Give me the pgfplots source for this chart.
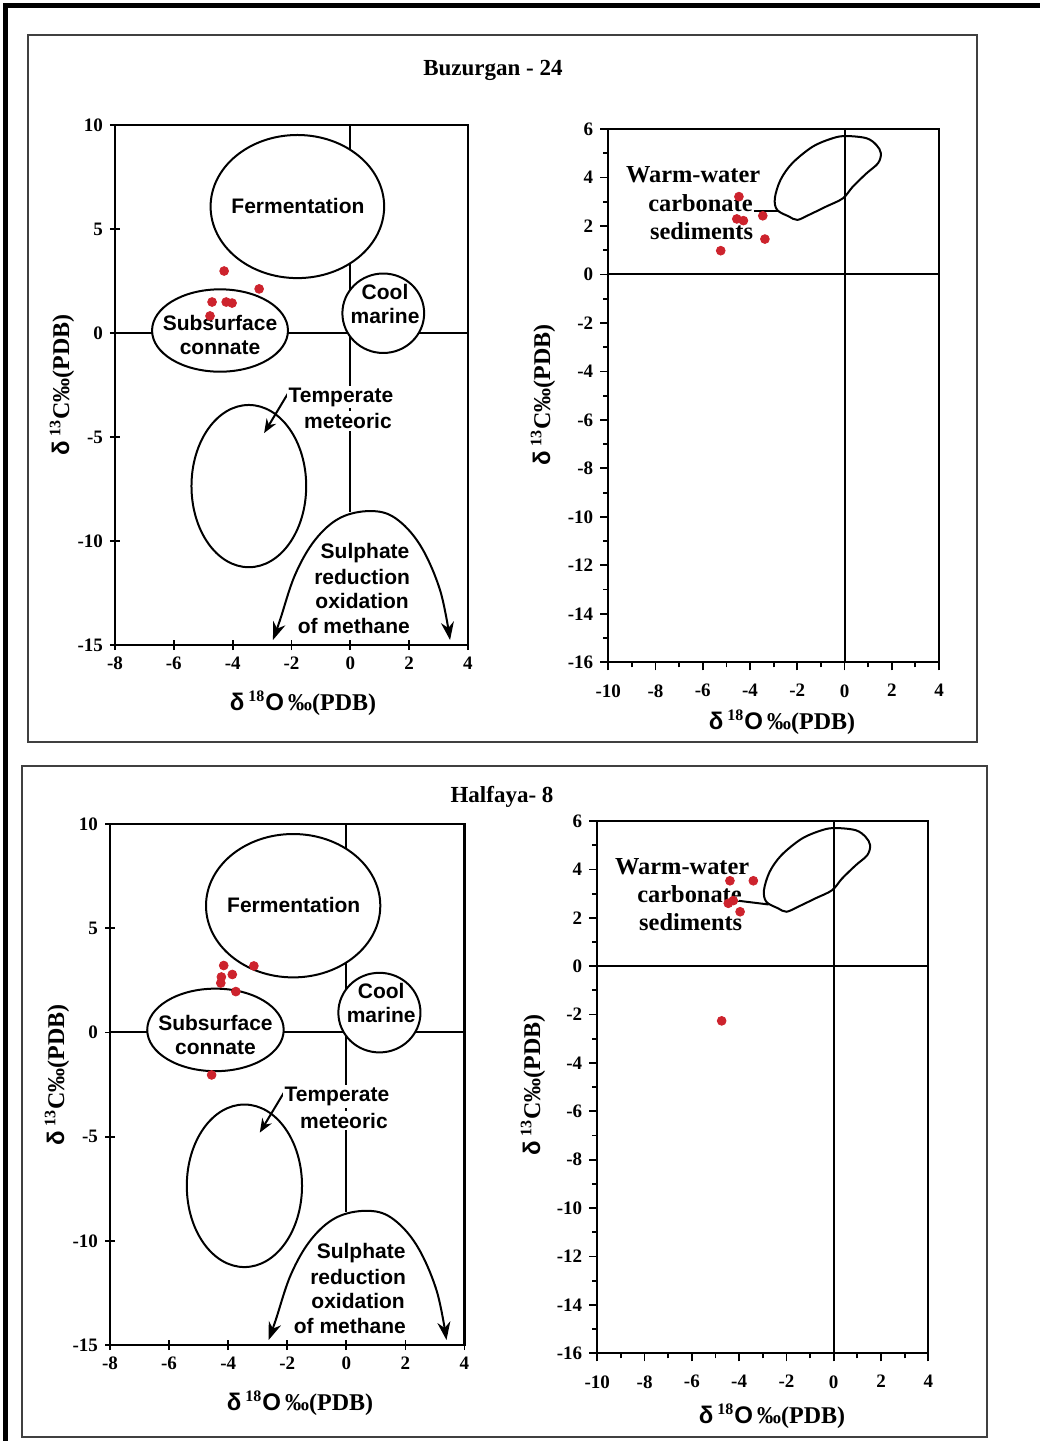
\documentclass[border=0pt]{standalone}
\usepackage{fontspec}
\setmainfont{Liberation Serif}
\setsansfont{Liberation Sans}
\usepackage{pgfplots}
\pgfplotsset{compat=1.18}
\usetikzlibrary{arrows.meta}
\definecolor{pt}{RGB}{205,35,45}

\pgfplotsset{
  base/.style={
    scale only axis, anchor=north west,
    axis line style={line width=1.1pt},
    tick style={black, line width=0.9pt},
    /pgf/number format/assume math mode=true,
    ticklabel style={font=\fontsize{9.5}{10}\selectfont\bfseries},
    tick pos=left,
  },
  leftp/.style={base, xmin=-8, xmax=4, ymin=-15, ymax=10,
    xtick={-8,-6,...,4}, ytick={-15,-10,...,10},
    tick align=center, major tick length=5pt},
  rightp/.style={base, xmin=-10, xmax=4, ymin=-16, ymax=6,
    xtick={-10,-8,...,4}, ytick={-16,-14,...,6},
    minor x tick num=1, minor y tick num=1,
    tick align=outside, major tick length=4pt, minor tick length=2.5pt,
    xticklabel style={yshift=-3.5pt}},
  pts/.style={only marks, mark=*, mark size=2.2pt, color=pt, mark options={fill=pt, draw=pt}},
}

\newcommand{\sanslab}{\sffamily\bfseries\fontsize{10.5}{12}\selectfont}
\newcommand{\leftcontent}{%
  \draw[line width=1pt] (-8,0) -- (4,0);
  \draw[line width=1pt] (0,10) -- (0,-8.6);
  \draw[line width=1pt, fill=white] (-1.8,6.08) ellipse [x radius=2.95, y radius=3.44];
  \draw[line width=1pt, fill=white] (-4.43,0.12) ellipse [x radius=2.31, y radius=1.98];
  \draw[line width=1pt, fill=white] (1.12,0.95) ellipse [x radius=1.39, y radius=1.91];
  \draw[line width=1pt, fill=white] (-3.45,-7.36) ellipse [x radius=1.95, y radius=3.9];
  \draw[line width=1pt, {Stealth[length=9pt,width=6.5pt]}-{Stealth[length=9pt,width=6.5pt]}]
     plot[smooth, tension=0.6] coordinates {(-2.63,-14.76) (-2.39,-13.8) (-1.88,-11.63) (-1.2,-9.95) (-0.35,-8.89) (0.67,-8.56) (1.52,-8.89) (2.37,-10.19) (3.05,-12.36) (3.39,-14.76)};
  \draw[line width=1pt, -{Stealth[length=7pt,width=5.5pt]}] (-2.05,-2.74) -- (-2.93,-4.81);
  \node[font=\sanslab] at (-1.78,6.11) {Fermentation};
  \node[font=\sanslab, align=center] at (-4.43,-0.1) {Subsurface\\connate};
  \node[font=\sanslab, align=center] at (1.18,1.39) {Cool\\marine};
  \node[font=\sanslab, fill=white, inner sep=1pt] at (-0.32,-3.08) {Temperate};
  \node[font=\sanslab, fill=white, inner sep=1pt] at (-0.08,-4.23) {meteoric};
  \node[font=\sanslab] at (0.5,-10.58) {Sulphate};
  \node[font=\sanslab] at (0.4,-11.73) {reduction};
  \node[font=\sanslab] at (0.4,-12.88) {oxidation};
  \node[font=\sanslab] at (0.12,-14.09) {of methane};
}
\newcommand{\rightcontent}[1]{%
  \draw[line width=1pt] (-10,0) -- (4,0);
  \draw[line width=1pt] (0,-16) -- (0,6);
  \draw[line width=1pt] plot[smooth cycle, tension=0.55] coordinates {(-2.85,2.66) (-2.95,3.14) (-2.71,3.9) (-2.21,4.59) (-1.35,5.27) (-0.5,5.62) (0.07,5.71) (0.93,5.62) (1.35,5.34) (1.54,5.0) (1.42,4.59) (0.93,4.17) (0.35,3.62) (-0.07,3.14) (-0.78,2.8) (-1.5,2.46) (-2.0,2.25) (-2.35,2.39)};
  \draw[line width=1pt] #1;
  \node[font=\bfseries\fontsize{12.2}{14}\selectfont] at (-6.41,4.12) {Warm-water};
  \node[font=\bfseries\fontsize{12.2}{14}\selectfont] at (-6.1,2.96) {carbonate};
  \node[font=\bfseries\fontsize{12.2}{14}\selectfont] at (-6.05,1.8) {sediments};
}
\newcommand{\xlab}{\bfseries\fontsize{12}{14}\selectfont{\sffamily δ}\,\textsuperscript{18}{\sffamily O}\,‰(PDB)}
\newcommand{\ylab}{\bfseries\fontsize{12}{14}\selectfont{\sffamily δ}\,\textsuperscript{13}C‰(PDB)}

\begin{document}
\begin{tikzpicture}
\path[use as bounding box] (0,0) rectangle (520pt,-720.5pt);
\fill[white] (0,0) rectangle (520pt,-720.5pt);
% outer border
\draw[line width=2.6pt] (2.6pt,-720.5pt) -- (2.6pt,-2.8pt) -- (520pt,-2.8pt);
% panel frames
\draw[line width=1.2pt, black!75] (14pt,-17.5pt) rectangle (488.5pt,-371pt);
\draw[line width=1.2pt, black!75] (11pt,-383pt) rectangle (493.5pt,-718.5pt);
\node[font=\bfseries\fontsize{11.5}{13}\selectfont] at (246.5pt,-35pt) {Buzurgan - 24};
\node[font=\bfseries\fontsize{11.5}{13}\selectfont] at (251pt,-398.5pt) {Halfaya- 8};

% ---- top left
\begin{axis}[leftp, at={(57.5pt,-62.5pt)}, width=176.5pt, height=260pt]
\leftcontent
\addplot[pts] coordinates {(-4.29,2.98) (-3.10,2.12) (-4.70,1.49) (-4.22,1.49) (-4.02,1.44) (-4.77,0.82)};
\end{axis}
% ---- top right
\begin{axis}[rightp, at={(304.15pt,-64.5pt)}, width=165.35pt, height=266.65pt]
\rightcontent{(-3.85,2.63) -- (-2.8,2.63)}
\addplot[pts] coordinates {(-4.47,3.21) (-4.56,2.29) (-4.28,2.22) (-3.46,2.42) (-3.37,1.46) (-5.24,0.98)};
\end{axis}
% ---- bottom left
\begin{axis}[leftp, at={(55pt,-412pt)}, width=177.25pt, height=260.5pt]
\leftcontent
\addplot[pts] coordinates {(-4.15,3.21) (-3.13,3.19) (-3.86,2.78) (-4.23,2.66) (-4.25,2.37) (-3.74,1.96) (-4.56,-2.04)};
\end{axis}
% ---- bottom right
\begin{axis}[rightp, at={(298.65pt,-410.5pt)}, width=165.5pt, height=266.15pt]
\rightcontent{(-4.0,2.7) -- (-2.75,2.55)}
\addplot[pts] coordinates {(-4.39,3.53) (-3.40,3.53) (-4.46,2.60) (-4.25,2.71) (-3.96,2.25) (-4.74,-2.26)};
\end{axis}

% axis labels
\node at (151.5pt,-351.5pt) {\xlab};
\node at (391pt,-361pt) {\xlab};
\node at (150pt,-701.5pt) {\xlab};
\node at (386pt,-708pt) {\xlab};
\node[rotate=90] at (31pt,-192.5pt) {\ylab};
\node[rotate=90] at (271.5pt,-197.5pt) {\ylab};
\node[rotate=90] at (28.5pt,-537.5pt) {\ylab};
\node[rotate=90] at (266.5pt,-542.5pt) {\ylab};
\end{tikzpicture}
\end{document}
